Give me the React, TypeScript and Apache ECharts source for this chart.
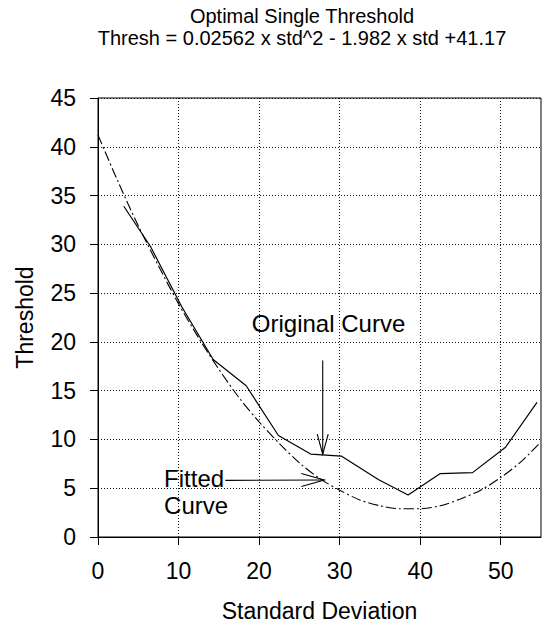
import React, { useEffect, useRef } from 'react';
import * as echarts from 'echarts';

const titleText = 'Optimal Single Threshold';
const subtitleText = 'Thresh = 0.02562 x std^2 - 1.982 x std +41.17';
const xAxisName = 'Standard Deviation';
const yAxisName = 'Threshold';
const xTickValues = [0, 10, 20, 30, 40, 50];

const originalStd = [3.2, 6.5, 10.4, 14.3, 18.4, 22.4, 26.4, 30.2, 34.8, 38.5, 42.5, 46.5, 50.6, 54.5];
const originalThresh = [33.9, 29.8, 23.6, 18.2, 15.5, 10.4, 8.5, 8.3, 5.9, 4.3, 6.5, 6.6, 9.2, 13.8];

const fittedStd = [0, 2.5, 5, 7.5, 10, 12.5, 15, 17.5, 20, 22.5, 25, 27.5, 30, 32.5, 35, 37.5, 40, 42.5, 45, 47.5, 50, 52.5, 54.7];
const fittedThresh = [41.2, 36.4, 31.9, 27.8, 23.9, 20.4, 17.2, 14.3, 11.8, 9.6, 7.6, 6.0, 4.8, 3.8, 3.2, 2.9, 2.9, 3.2, 3.9, 4.8, 6.1, 7.7, 9.5];

const originalLabel = 'Original Curve';
const fittedLabelLines = ['Fitted', 'Curve'];

// annotation anchors (data units)
const originalLabelAt = [19.1, 21.9];
const originalArrow = [[27.9, 18.1], [27.9, 8.5]];
const fittedLabelAt = [[8.2, 6.0], [8.2, 3.25]];
const fittedArrow = [[15.8, 5.8], [28.1, 5.85]];

const FONT = '"Liberation Sans", Arial, sans-serif';

export default function App() {
  const ref = useRef<HTMLDivElement>(null);
  useEffect(() => {
    if (!ref.current) return;
    const chart = echarts.init(ref.current, null, { renderer: 'svg' });
    const origData = originalStd.map((x, i) => [x, originalThresh[i]]);
    const fitData = fittedStd.map((x, i) => [x, fittedThresh[i]]);
    chart.setOption({
      animation: false,
      backgroundColor: '#fff',
      title: {
        text: titleText,
        subtext: subtitleText,
        left: 302,
        top: 6,
        textAlign: 'center',
        padding: 0,
        itemGap: 2,
        textStyle: { fontFamily: FONT, fontSize: 20, fontWeight: 'normal', color: '#000', lineHeight: 20 },
        subtextStyle: { fontFamily: FONT, fontSize: 20, color: '#000', lineHeight: 20 },
      },
      grid: {
        left: 98,
        top: 98,
        right: 6,
        bottom: 88,
        show: true,
        borderColor: '#000',
        borderWidth: 1,
        containLabel: false,
      },
      xAxis: {
        type: 'value',
        min: 0,
        max: 55,
        interval: 10,
        name: xAxisName,
        nameLocation: 'middle',
        nameGap: 62,
        nameTextStyle: { fontFamily: FONT, fontSize: 23, color: '#000' },
        axisLine: { show: true, lineStyle: { color: '#000', width: 1 } },
        axisTick: { show: true, length: 8, customValues: xTickValues, lineStyle: { color: '#000' } },
        axisLabel: { customValues: xTickValues, margin: 22, fontFamily: FONT, fontSize: 23, color: '#000' },
        splitLine: { show: true, lineStyle: { color: '#111', width: 1, type: [1, 2] } },
      },
      yAxis: {
        type: 'value',
        min: 0,
        max: 45,
        interval: 5,
        name: yAxisName,
        nameLocation: 'middle',
        nameGap: 62,
        nameTextStyle: { fontFamily: FONT, fontSize: 23, color: '#000' },
        axisLine: { show: true, lineStyle: { color: '#000', width: 1 } },
        axisTick: { show: true, length: 8, lineStyle: { color: '#000' } },
        axisLabel: { margin: 22, fontFamily: FONT, fontSize: 23, color: '#000' },
        splitLine: { show: true, lineStyle: { color: '#111', width: 1, type: [1, 2] } },
      },
      series: [
        {
          name: 'Original Curve',
          type: 'line',
          data: origData,
          showSymbol: false,
          symbol: 'none',
          lineStyle: { color: '#000', width: 1.2 },
        },
        {
          name: 'Fitted Curve',
          type: 'line',
          data: fitData,
          smooth: 0.3,
          showSymbol: false,
          symbol: 'none',
          lineStyle: { color: '#000', width: 1.1, type: [10, 3, 2, 3] },
        },
      ],
    });

    const px = (p: number[]) => chart.convertToPixel({ gridIndex: 0 }, p) as number[];
    const arrow = (from: number[], to: number[], L: number, W: number) => {
      const a = px(from);
      const b = px(to);
      const dx = b[0] - a[0];
      const dy = b[1] - a[1];
      const len = Math.hypot(dx, dy) || 1;
      const ux = dx / len, uy = dy / len;
      const nx = -uy, ny = ux;
      const style = { stroke: '#000', lineWidth: 1.1, fill: null };
      return [
        { type: 'line', shape: { x1: a[0], y1: a[1], x2: b[0], y2: b[1] }, style },
        {
          type: 'polyline',
          shape: {
            points: [
              [b[0] - L * ux + W * nx, b[1] - L * uy + W * ny],
              [b[0], b[1]],
              [b[0] - L * ux - W * nx, b[1] - L * uy - W * ny],
            ],
          },
          style,
        },
      ];
    };
    const textEl = (text: string, at: number[]) => {
      const p = px(at);
      return {
        type: 'text',
        x: p[0],
        y: p[1],
        style: { text, font: `24px ${FONT}`, fill: '#000', verticalAlign: 'middle', align: 'left' },
      };
    };
    chart.setOption({
      graphic: [
        textEl(originalLabel, originalLabelAt),
        textEl(fittedLabelLines[0], fittedLabelAt[0]),
        textEl(fittedLabelLines[1], fittedLabelAt[1]),
        ...arrow(originalArrow[0], originalArrow[1], 20, 5.5),
        ...arrow(fittedArrow[0], fittedArrow[1], 23, 6.5),
      ],
    });
    return () => chart.dispose();
  }, []);
  return <div ref={ref} style={{ position: 'fixed', left: 0, top: 0, width: 547, height: 627, background: '#fff' }} />;
}
